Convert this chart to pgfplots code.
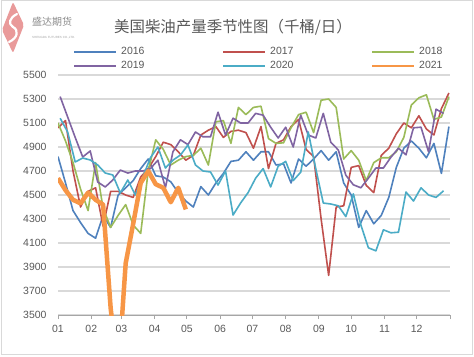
\documentclass[border=0pt]{standalone}
\usepackage{fontspec}
\setmainfont{Liberation Sans}
\newfontfamily\cjk{Noto Sans CJK SC}
\usepackage{pgfplots}
\pgfplotsset{compat=1.18}
\definecolor{c16}{HTML}{4F81BD}
\definecolor{c17}{HTML}{C0504D}
\definecolor{c18}{HTML}{9BBB59}
\definecolor{c19}{HTML}{8064A2}
\definecolor{c20}{HTML}{4BACC6}
\definecolor{c21}{HTML}{F79646}
\definecolor{txt}{HTML}{595959}
\definecolor{gridc}{HTML}{D9D9D9}
\definecolor{logop}{HTML}{E99A9A}
\begin{document}
\begin{tikzpicture}[x=1bp,y=1bp]
\useasboundingbox (0,0) rectangle (474,356);
\fill[white] (0,0) rectangle (474,356);
\draw[gridc, line width=1bp] (1.5,1.5) rectangle (472.5,355.5);
% logo
\fill[logop, rounded corners=2bp] (13,354) -- (24,331) -- (13,303) -- (2,326) -- cycle;
\draw[white, line width=2.2bp, line cap=round] (17,342) .. controls (9,338) and (8,332) .. (13,329) .. controls (19,326) and (18,318) .. (9,314);
\node[anchor=west, inner sep=0pt, text=gray!90, font=\cjk\fontsize{10}{11}\selectfont] at (32,334.5) {盛达期货};
\node[anchor=west, inner sep=0pt, text=gray!70, font=\fontsize{3}{3}\selectfont] at (32,318) {SHENGDA FUTURES CO.,LTD.};
% title
\node[text=txt, font=\cjk\fontsize{15.5}{17}\selectfont, inner sep=0pt] at (233,328.5) {美国柴油产量季节性图（千桶/日）};
\begin{axis}[
  at={(58bp,41bp)}, anchor=south west,
  scale only axis, width=392bp, height=240bp,
  xmin=0, xmax=365, ymin=3500, ymax=5500,
  xtick={0,31,59,90,120,151,181,212,243,273,304,334,365},
  xticklabels={01,02,03,04,05,06,07,08,09,10,11,12,{}},
  ytick={3500,3700,3900,4100,4300,4500,4700,4900,5100,5300,5500},
  /pgf/number format/assume math mode=true,
  /pgf/number format/set thousands separator={},
  ymajorgrids, grid style={gridc, line width=1.3bp},
  axis x line*=bottom, axis y line*=left,
  y axis line style={draw=none},
  x axis line style={draw=gray!70, line width=1bp},
  tick align=outside, major tick length=4bp,
  x tick style={draw=gray!70, line width=1bp},
  y tick style={draw=none},
  tick label style={text=txt, font=\fontsize{10.5}{12}\selectfont},
  yticklabel style={xshift=-4bp},
  xticklabel style={yshift=-3bp},
  legend columns=3,
  legend image code/.code={\draw[line width=2bp,#1] (0bp,0bp) -- (42bp,0bp);},
  legend style={draw=none, fill=none, at={(0.0383,1.117)}, anchor=north west,
    font=\fontsize{10.5}{12}\selectfont, text=txt,
    inner sep=0pt, row sep=5.5bp,
    nodes={inner sep=0pt, text width=101bp, align=left},
    /tikz/every odd column/.append style={column sep=4bp},
    /tikz/every even column/.append style={column sep=0bp}},
  every axis plot/.append style={line width=1.6bp, line join=round, no markers},
]
\addplot[c16] coordinates {
(0,4820)(7,4600)(14,4370)(21,4270)(28,4180)(35,4140)(42,4330)(49,4230)(56,4500)(63,4560)
(70,4620)(77,4720)(84,4800)(91,4660)(98,4650)(105,4610)(112,4520)(119,4450)(126,4400)(133,4570)
(140,4500)(147,4600)(154,4680)(161,4780)(168,4790)(175,4860)(182,4790)(189,4860)(196,4860)(203,4750)
(210,4760)(217,4600)(224,4800)(231,4740)(238,4800)(245,4870)(252,4790)(259,4860)(266,4600)(273,4500)
(280,4230)(287,4370)(294,4260)(301,4330)(308,4480)(315,4730)(322,4890)(329,4950)(336,4890)(343,4810)
(350,4930)(357,4680)(364,5070)};
\addlegendentry{2016}
\addplot[c17] coordinates {
(0,5060)(7,5120)(14,4700)(21,4400)(28,4530)(35,4560)(42,4240)(49,4530)(56,4530)(63,4500)
(70,4480)(77,4650)(84,4720)(91,4820)(98,4940)(105,4920)(112,4860)(119,4790)(126,4830)(133,5000)
(140,5040)(147,5070)(154,4980)(161,5030)(168,5040)(175,5020)(182,4890)(189,5070)(196,4720)(203,4930)
(210,4960)(217,5070)(224,5130)(231,4880)(238,4820)(245,4300)(252,3830)(259,4400)(266,4410)(273,4730)
(280,4745)(287,4580)(294,4520)(301,4830)(308,4890)(315,5010)(322,5100)(329,5060)(336,5160)(343,5050)
(350,5000)(357,5220)(364,5350)};
\addlegendentry{2017}
\addplot[c18] coordinates {
(0,5100)(7,4950)(14,4770)(21,4550)(28,4370)(35,4770)(42,4390)(49,4230)(56,4330)(63,4420)
(70,4250)(77,4180)(84,4700)(91,4960)(98,4880)(105,4750)(112,4790)(119,4820)(126,4830)(133,4890)
(140,4750)(147,5110)(154,5120)(161,4930)(168,5230)(175,5170)(182,5230)(189,5240)(196,4970)(203,4930)
(210,4935)(217,5060)(224,5170)(231,5190)(238,5020)(245,5290)(252,5300)(259,5230)(266,4800)(273,4870)
(280,4790)(287,4620)(294,4770)(301,4810)(308,4810)(315,4860)(322,4980)(329,5250)(336,5310)(343,5335)
(350,5130)(357,5150)(364,5320)};
\addlegendentry{2018}
\addplot[c19] coordinates {
(2,5320)(9,5150)(16,4980)(23,4817)(30,4867)(37,4608)(44,4567)(51,4625)(58,4708)(65,4683)
(72,4700)(79,4700)(86,4720)(93,4790)(100,4560)(107,4860)(114,4960)(121,4920)(128,5025)(135,4985)
(142,4985)(149,5190)(156,5000)(163,5140)(170,5100)(177,5100)(184,5180)(191,5165)(198,5065)(205,4975)
(212,5065)(219,4900)(226,5165)(233,5000)(240,4975)(247,5180)(254,4940)(261,4875)(268,4665)(275,4585)
(282,4560)(289,4640)(296,4725)(303,4725)(310,4815)(317,4890)(324,4835)(331,5060)(338,5065)(345,4860)
(352,5215)(359,5180)};
\addlegendentry{2019}
\addplot[c20] coordinates {
(2,5140)(9,5025)(16,4775)(23,4808)(30,4792)(37,4750)(44,4683)(51,4667)(58,4517)(65,4625)
(72,4500)(79,4650)(86,4810)(93,4900)(100,4725)(107,4790)(114,4833)(121,4917)(128,4750)(135,4700)
(142,4692)(149,4583)(156,4700)(163,4333)(170,4433)(177,4520)(184,4640)(191,4720)(198,4567)(205,4740)
(212,4780)(219,4620)(226,4690)(233,5025)(240,4720)(247,4433)(254,4425)(261,4410)(268,4320)(275,4510)
(282,4250)(289,4060)(296,4035)(303,4210)(310,4185)(317,4190)(324,4525)(331,4450)(338,4560)(345,4500)
(352,4480)(359,4535)};
\addlegendentry{2020}
\addplot[c21, line width=4.5bp] coordinates {
(0,4640)(7,4540)(14,4460)(21,4430)(28,4520)(35,4460)(42,4420)(49,3560)(56,3000)(63,3930)
(70,4260)(77,4600)(84,4700)(91,4590)(98,4560)(105,4440)(112,4560)(119,4380)};
\addlegendentry{2021}
\end{axis}
\end{tikzpicture}
\end{document}
